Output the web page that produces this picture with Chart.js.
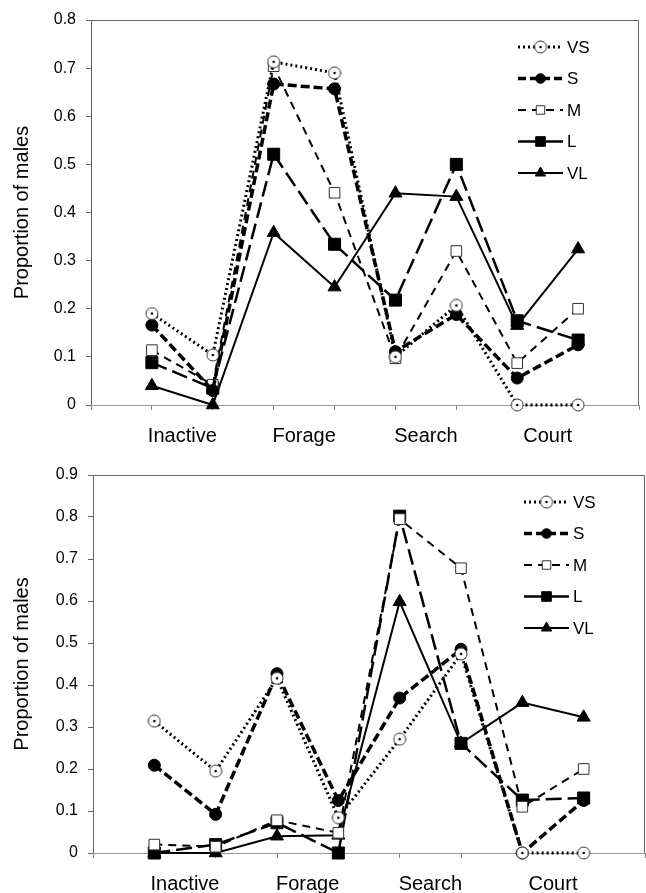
<!DOCTYPE html>
<html>
<head>
<meta charset="utf-8">
<script src="https://cdn.jsdelivr.net/npm/chart.js@4"></script>
<style>
  body { margin: 0; background: #fff; }
  canvas { display: block; }
</style>
</head>
<body>
<canvas id="top" width="646" height="450"></canvas>
<canvas id="bottom" width="646" height="443"></canvas>
<script>
// categories and series
const cats = ["Inactive", "Forage", "Search", "Court"];
const series = ["VS", "S", "M", "L", "VL"];
const xPos = [1, 2, 3, 4, 5, 6, 7, 8];

// upper panel
const topVS = [0.19, 0.104, 0.713, 0.69, 0.1, 0.207, 0, 0];
const topS = [0.166, 0.03, 0.667, 0.657, 0.111, 0.188, 0.056, 0.125];
const topM = [0.114, 0.042, 0.704, 0.441, 0.097, 0.32, 0.087, 0.2];
const topL = [0.088, 0.035, 0.521, 0.334, 0.218, 0.5, 0.175, 0.135];
const topVL = [0.04, 0, 0.358, 0.245, 0.44, 0.433, 0.165, 0.324];

// lower panel
const botVS = [0.314, 0.195, 0.416, 0.084, 0.271, 0.474, 0, 0];
const botS = [0.209, 0.092, 0.427, 0.125, 0.369, 0.485, 0, 0.125];
const botM = [0.02, 0.015, 0.078, 0.048, 0.795, 0.678, 0.11, 0.2];
const botL = [0, 0.02, 0.072, 0, 0.802, 0.261, 0.126, 0.131];
const botVL = [0, 0, 0.04, 0.042, 0.598, 0.261, 0.358, 0.323];

const topMax = 0.8;
const botMax = 0.9;
const xTicks = [0, 1, 1.5, 2, 3, 3.5, 4, 5, 5.5, 6, 7, 7.5, 8, 9];

Chart.defaults.font.family = "'Liberation Sans', Arial, sans-serif";
Chart.defaults.color = "#000";

// open circle with a dot in the middle
function dotCircle(r) {
  const c = document.createElement("canvas");
  c.width = c.height = r * 2 + 2;
  const g = c.getContext("2d");
  g.beginPath();
  g.arc(r + 1, r + 1, r, 0, 2 * Math.PI);
  g.fillStyle = "#fff";
  g.fill();
  g.lineWidth = 1;
  g.strokeStyle = "#333";
  g.stroke();
  g.beginPath();
  g.arc(r + 1, r + 1, 1.3, 0, 2 * Math.PI);
  g.fillStyle = "#000";
  g.fill();
  return c;
}

const looks = [
  { borderDash: [2, 3], legendDash: [2, 3], borderWidth: 3, pointStyle: dotCircle(6), pointRadius: 6, pointBackgroundColor: "#fff", pointBorderColor: "#333", pointBorderWidth: 1 },
  { borderDash: [9, 4], legendDash: [8, 4], borderWidth: 3.5, pointStyle: "circle", pointRadius: 6, pointBackgroundColor: "#000", pointBorderColor: "#000", pointBorderWidth: 1 },
  { borderDash: [8, 6], legendDash: [8, 6], borderWidth: 2, pointStyle: "rect", pointRadius: 7.5, pointBackgroundColor: "#fff", pointBorderColor: "#333", pointBorderWidth: 1 },
  { borderDash: [16, 6], legendDash: [], borderWidth: 2.5, pointStyle: "rect", pointRadius: 8.5, pointBackgroundColor: "#000", pointBorderColor: "#000", pointBorderWidth: 1 },
  { borderDash: [], legendDash: [], borderWidth: 2, pointStyle: "triangle", pointRadius: 7.5, pointBackgroundColor: "#000", pointBorderColor: "#000", pointBorderWidth: 1 },
];

// frame round the plot and the legend at the top right
const extras = {
  id: "extras",
  beforeDatasetsDraw(chart) {
    const { ctx, chartArea: a } = chart;
    ctx.save();
    ctx.strokeStyle = "#666";
    ctx.lineWidth = 1;
    ctx.beginPath();
    ctx.moveTo(a.left + 0.5, a.bottom);
    ctx.lineTo(a.left + 0.5, a.top + 0.5);
    ctx.lineTo(a.right - 0.5, a.top + 0.5);
    ctx.lineTo(a.right - 0.5, a.bottom);
    ctx.stroke();
    ctx.strokeStyle = "#999";
    ctx.beginPath();
    ctx.moveTo(a.left, a.bottom + 0.5);
    ctx.lineTo(a.right, a.bottom + 0.5);
    ctx.stroke();
    ctx.restore();
  },
  afterDraw(chart) {
    const { ctx, chartArea: a } = chart;
    const x0 = a.right - 121;
    const x1 = x0 + 45;
    ctx.save();
    chart.data.datasets.forEach((ds, i) => {
      const y = a.top + 27 + 31.5 * i;
      ctx.strokeStyle = "#000";
      ctx.lineWidth = ds.borderWidth;
      ctx.setLineDash(ds.legendDash);
      ctx.beginPath();
      ctx.moveTo(x0, y);
      ctx.lineTo(x1, y);
      ctx.stroke();
      ctx.setLineDash([]);
      ctx.fillStyle = ds.pointBackgroundColor;
      ctx.strokeStyle = ds.pointBorderColor;
      ctx.lineWidth = ds.pointBorderWidth;
      Chart.helpers.drawPoint(ctx, { pointStyle: ds.pointStyle, radius: ds.pointRadius * 0.8, rotation: 0, borderWidth: 1 }, (x0 + x1) / 2, y);
      ctx.fillStyle = "#000";
      ctx.font = "17px 'Liberation Sans', Arial, sans-serif";
      ctx.textBaseline = "middle";
      ctx.fillText(ds.label, x1 + 4, y + 1);
    });
    ctx.restore();
  },
};

function makeChart(id, values, yMax, box) {
  const datasets = series.map((name, i) => ({
    label: name,
    data: values[i].map((v, j) => ({ x: xPos[j], y: v })),
    borderColor: "#000",
    fill: false,
    tension: 0,
    clip: false,
    ...looks[i],
  }));
  return new Chart(document.getElementById(id), {
    type: "line",
    data: { datasets },
    options: {
      responsive: false,
      animation: false,
      layout: { autoPadding: false, padding: { top: box.top, right: box.right, left: 0, bottom: 0 } },
      plugins: { legend: { display: false }, tooltip: { enabled: false } },
      scales: {
        x: {
          type: "linear",
          min: 0,
          max: 9,
          afterBuildTicks: (s) => {
            s.ticks = xTicks.map((v) => ({ value: v }));
          },
          afterFit: (s) => {
            s.height = box.xh;
            s.paddingLeft = 0;
            s.paddingRight = 0;
          },
          border: { display: false },
          grid: {
            drawOnChartArea: false,
            tickLength: 5,
            color: (c) => (Number.isInteger(c.tick.value) ? "#888" : "rgba(0,0,0,0)"),
          },
          ticks: {
            autoSkip: false,
            maxRotation: 0,
            padding: 14,
            font: { size: 20 },
            callback: (v) => (Number.isInteger(v) ? "" : cats[(v - 1.5) / 2]),
          },
        },
        y: {
          min: 0,
          max: yMax,
          afterFit: (s) => {
            s.width = box.left;
          },
          border: { display: false },
          grid: { drawOnChartArea: false, tickLength: 5, color: "#666" },
          ticks: {
            stepSize: 0.1,
            padding: 10,
            font: { size: 16 },
            callback: (v) => String(Math.round(v * 10) / 10),
          },
          title: {
            display: true,
            text: "Proportion of males",
            font: { size: 20 },
            padding: { top: 10, bottom: 0 },
          },
        },
      },
    },
    plugins: [extras],
  });
}

makeChart("top", [topVS, topS, topM, topL, topVL], topMax, { top: 20, right: 7, left: 91, xh: 45 });
makeChart("bottom", [botVS, botS, botM, botL, botVL], botMax, { top: 25, right: 1, left: 93, xh: 40 });
</script>
</body>
</html>
